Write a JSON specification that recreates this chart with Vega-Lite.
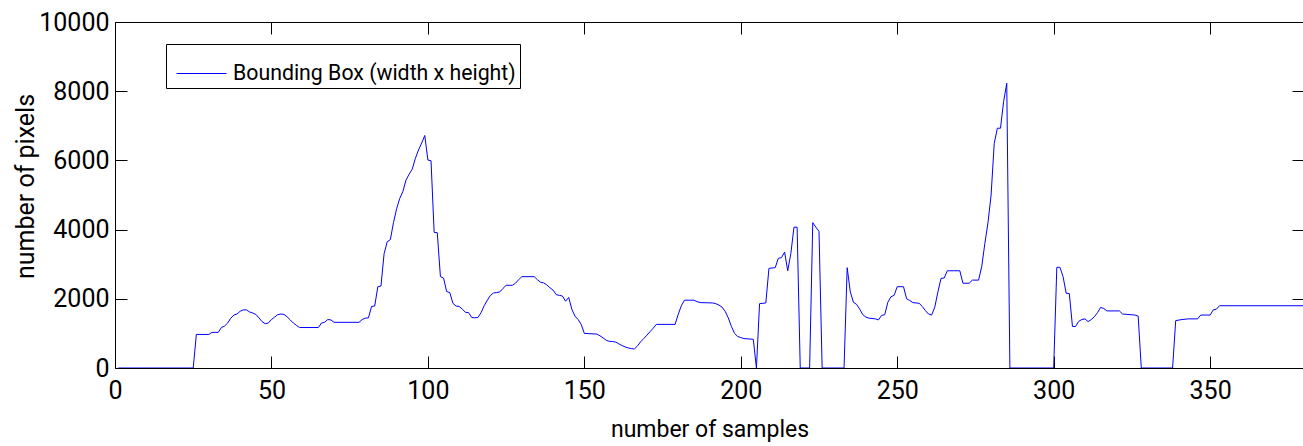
{
  "$schema": "https://vega.github.io/schema/vega-lite/v6.json",
  "width": 1189,
  "height": 346,
  "autosize": "none",
  "padding": {"left": 115, "top": 22, "right": 0, "bottom": 78},
  "background": "white",
  "config": {
    "view": {"stroke": null},
    "font": "Roboto",
    "axis": {
      "grid": false,
      "domainColor": "black",
      "domainWidth": 1,
      "tickColor": "black",
      "tickWidth": 1,
      "labelColor": "black",
      "titleColor": "black",
      "labelFont": "Roboto",
      "titleFont": "Roboto",
      "labelFontSize": 25,
      "titleFontWeight": "normal",
      "tickSize": -12,
      "labelFlush": false,
      "labelOverlap": false,
      "format": "d",
      "zindex": 1
    }
  },
  "data": {
    "values": [
      {"sample": 1, "pixels": 0}, {"sample": 25, "pixels": 0}, {"sample": 26, "pixels": 970}, {"sample": 30, "pixels": 970},
      {"sample": 31, "pixels": 1030}, {"sample": 33, "pixels": 1030}, {"sample": 34, "pixels": 1170}, {"sample": 35, "pixels": 1210},
      {"sample": 36, "pixels": 1300}, {"sample": 37, "pixels": 1440}, {"sample": 38, "pixels": 1530}, {"sample": 39, "pixels": 1560},
      {"sample": 40, "pixels": 1640}, {"sample": 41, "pixels": 1680}, {"sample": 42, "pixels": 1680}, {"sample": 43, "pixels": 1620},
      {"sample": 44, "pixels": 1590}, {"sample": 45, "pixels": 1550}, {"sample": 46, "pixels": 1450}, {"sample": 47, "pixels": 1340},
      {"sample": 48, "pixels": 1280}, {"sample": 49, "pixels": 1300}, {"sample": 50, "pixels": 1400}, {"sample": 51, "pixels": 1470},
      {"sample": 52, "pixels": 1540}, {"sample": 53, "pixels": 1560}, {"sample": 54, "pixels": 1550}, {"sample": 55, "pixels": 1480},
      {"sample": 56, "pixels": 1390}, {"sample": 57, "pixels": 1300}, {"sample": 58, "pixels": 1230}, {"sample": 59, "pixels": 1170},
      {"sample": 65, "pixels": 1170}, {"sample": 66, "pixels": 1300}, {"sample": 67, "pixels": 1320}, {"sample": 68, "pixels": 1400},
      {"sample": 69, "pixels": 1390}, {"sample": 70, "pixels": 1320}, {"sample": 78, "pixels": 1320}, {"sample": 79, "pixels": 1400},
      {"sample": 80, "pixels": 1440}, {"sample": 81, "pixels": 1450}, {"sample": 82, "pixels": 1780}, {"sample": 83, "pixels": 1790},
      {"sample": 84, "pixels": 2350}, {"sample": 85, "pixels": 2370}, {"sample": 86, "pixels": 3300}, {"sample": 87, "pixels": 3650},
      {"sample": 88, "pixels": 3710}, {"sample": 89, "pixels": 4200}, {"sample": 90, "pixels": 4600}, {"sample": 91, "pixels": 4900},
      {"sample": 92, "pixels": 5100}, {"sample": 93, "pixels": 5430}, {"sample": 94, "pixels": 5600}, {"sample": 95, "pixels": 5750},
      {"sample": 96, "pixels": 6060}, {"sample": 97, "pixels": 6300}, {"sample": 98, "pixels": 6500}, {"sample": 99, "pixels": 6720},
      {"sample": 100, "pixels": 6010}, {"sample": 101, "pixels": 5990}, {"sample": 102, "pixels": 3920}, {"sample": 103, "pixels": 3910},
      {"sample": 104, "pixels": 2640}, {"sample": 105, "pixels": 2600}, {"sample": 106, "pixels": 2210}, {"sample": 107, "pixels": 2180},
      {"sample": 108, "pixels": 1870}, {"sample": 109, "pixels": 1790}, {"sample": 110, "pixels": 1780}, {"sample": 111, "pixels": 1700},
      {"sample": 112, "pixels": 1610}, {"sample": 113, "pixels": 1600}, {"sample": 114, "pixels": 1460}, {"sample": 115, "pixels": 1450},
      {"sample": 116, "pixels": 1460}, {"sample": 117, "pixels": 1600}, {"sample": 118, "pixels": 1800}, {"sample": 119, "pixels": 1960},
      {"sample": 120, "pixels": 2100}, {"sample": 121, "pixels": 2170}, {"sample": 122, "pixels": 2180}, {"sample": 123, "pixels": 2200},
      {"sample": 124, "pixels": 2300}, {"sample": 125, "pixels": 2390}, {"sample": 127, "pixels": 2390}, {"sample": 128, "pixels": 2450},
      {"sample": 129, "pixels": 2550}, {"sample": 130, "pixels": 2640}, {"sample": 134, "pixels": 2640}, {"sample": 135, "pixels": 2550},
      {"sample": 136, "pixels": 2480}, {"sample": 137, "pixels": 2460}, {"sample": 138, "pixels": 2400}, {"sample": 139, "pixels": 2320},
      {"sample": 140, "pixels": 2250}, {"sample": 141, "pixels": 2120}, {"sample": 142, "pixels": 2100}, {"sample": 143, "pixels": 2080},
      {"sample": 144, "pixels": 1930}, {"sample": 145, "pixels": 2040}, {"sample": 146, "pixels": 1700}, {"sample": 147, "pixels": 1500},
      {"sample": 148, "pixels": 1400}, {"sample": 149, "pixels": 1260}, {"sample": 150, "pixels": 1000}, {"sample": 154, "pixels": 980},
      {"sample": 155, "pixels": 930}, {"sample": 156, "pixels": 870}, {"sample": 157, "pixels": 800}, {"sample": 158, "pixels": 770},
      {"sample": 159, "pixels": 765}, {"sample": 160, "pixels": 750}, {"sample": 161, "pixels": 700}, {"sample": 162, "pixels": 650},
      {"sample": 163, "pixels": 610}, {"sample": 164, "pixels": 580}, {"sample": 165, "pixels": 560}, {"sample": 166, "pixels": 550},
      {"sample": 167, "pixels": 640}, {"sample": 168, "pixels": 760}, {"sample": 169, "pixels": 850}, {"sample": 170, "pixels": 950},
      {"sample": 171, "pixels": 1050}, {"sample": 172, "pixels": 1150}, {"sample": 173, "pixels": 1260}, {"sample": 179, "pixels": 1260},
      {"sample": 180, "pixels": 1550}, {"sample": 181, "pixels": 1800}, {"sample": 182, "pixels": 1960}, {"sample": 185, "pixels": 1960},
      {"sample": 186, "pixels": 1920}, {"sample": 187, "pixels": 1890}, {"sample": 191, "pixels": 1880}, {"sample": 192, "pixels": 1860},
      {"sample": 193, "pixels": 1820}, {"sample": 194, "pixels": 1760}, {"sample": 195, "pixels": 1640}, {"sample": 196, "pixels": 1450},
      {"sample": 197, "pixels": 1200}, {"sample": 198, "pixels": 1000}, {"sample": 199, "pixels": 910}, {"sample": 200, "pixels": 880},
      {"sample": 201, "pixels": 850}, {"sample": 204, "pixels": 830}, {"sample": 205, "pixels": 0}, {"sample": 206, "pixels": 1860},
      {"sample": 208, "pixels": 1880}, {"sample": 209, "pixels": 2880}, {"sample": 211, "pixels": 2900}, {"sample": 212, "pixels": 3170},
      {"sample": 213, "pixels": 3190}, {"sample": 214, "pixels": 3350}, {"sample": 215, "pixels": 2810}, {"sample": 216, "pixels": 3310},
      {"sample": 217, "pixels": 4070}, {"sample": 218, "pixels": 4070}, {"sample": 219, "pixels": 0}, {"sample": 222, "pixels": 0},
      {"sample": 223, "pixels": 4200}, {"sample": 224, "pixels": 4070}, {"sample": 225, "pixels": 3950}, {"sample": 226, "pixels": 0},
      {"sample": 233, "pixels": 0}, {"sample": 234, "pixels": 2900}, {"sample": 235, "pixels": 2200}, {"sample": 236, "pixels": 1900},
      {"sample": 237, "pixels": 1840}, {"sample": 238, "pixels": 1700}, {"sample": 239, "pixels": 1540}, {"sample": 240, "pixels": 1470},
      {"sample": 241, "pixels": 1440}, {"sample": 243, "pixels": 1420}, {"sample": 244, "pixels": 1390}, {"sample": 245, "pixels": 1520},
      {"sample": 246, "pixels": 1540}, {"sample": 247, "pixels": 1900}, {"sample": 248, "pixels": 2060}, {"sample": 249, "pixels": 2100},
      {"sample": 250, "pixels": 2350}, {"sample": 252, "pixels": 2350}, {"sample": 253, "pixels": 2000}, {"sample": 254, "pixels": 1950},
      {"sample": 255, "pixels": 1890}, {"sample": 257, "pixels": 1870}, {"sample": 258, "pixels": 1780}, {"sample": 259, "pixels": 1660},
      {"sample": 260, "pixels": 1560}, {"sample": 261, "pixels": 1530}, {"sample": 262, "pixels": 1760}, {"sample": 263, "pixels": 2200},
      {"sample": 264, "pixels": 2590}, {"sample": 265, "pixels": 2600}, {"sample": 266, "pixels": 2810}, {"sample": 270, "pixels": 2810},
      {"sample": 271, "pixels": 2450}, {"sample": 273, "pixels": 2450}, {"sample": 274, "pixels": 2540}, {"sample": 276, "pixels": 2540},
      {"sample": 277, "pixels": 2930}, {"sample": 278, "pixels": 3600}, {"sample": 279, "pixels": 4200}, {"sample": 280, "pixels": 5000},
      {"sample": 281, "pixels": 6490}, {"sample": 282, "pixels": 6930}, {"sample": 283, "pixels": 6930}, {"sample": 284, "pixels": 7700},
      {"sample": 285, "pixels": 8230}, {"sample": 286, "pixels": 0}, {"sample": 300, "pixels": 0}, {"sample": 301, "pixels": 2910},
      {"sample": 302, "pixels": 2910}, {"sample": 303, "pixels": 2640}, {"sample": 304, "pixels": 2160}, {"sample": 305, "pixels": 2150},
      {"sample": 306, "pixels": 1200}, {"sample": 307, "pixels": 1200}, {"sample": 308, "pixels": 1350}, {"sample": 309, "pixels": 1400},
      {"sample": 310, "pixels": 1420}, {"sample": 311, "pixels": 1340}, {"sample": 312, "pixels": 1400}, {"sample": 313, "pixels": 1480},
      {"sample": 314, "pixels": 1600}, {"sample": 315, "pixels": 1750}, {"sample": 316, "pixels": 1720}, {"sample": 317, "pixels": 1650},
      {"sample": 321, "pixels": 1650}, {"sample": 322, "pixels": 1560}, {"sample": 326, "pixels": 1530}, {"sample": 327, "pixels": 1500},
      {"sample": 328, "pixels": 0}, {"sample": 338, "pixels": 0}, {"sample": 339, "pixels": 1370}, {"sample": 341, "pixels": 1400},
      {"sample": 343, "pixels": 1420}, {"sample": 346, "pixels": 1420}, {"sample": 347, "pixels": 1530}, {"sample": 350, "pixels": 1530},
      {"sample": 351, "pixels": 1680}, {"sample": 352, "pixels": 1700}, {"sample": 353, "pixels": 1800}, {"sample": 380, "pixels": 1800}
    ]
  },
  "layer": [
    {
      "mark": {"type": "line", "strokeWidth": 1, "strokeOpacity": 0},
      "encoding": {
        "x": {"field": "sample", "type": "quantitative", "scale": {"domain": [0, 380], "nice": false, "zero": false},
              "axis": {"orient": "top", "labels": false, "title": null, "values": [0, 50, 100, 150, 200, 250, 300, 350]}},
        "y": {"field": "pixels", "type": "quantitative", "scale": {"domain": [0, 10000], "nice": false},
              "axis": {"orient": "right", "labels": false, "title": null, "values": [0, 2000, 4000, 6000, 8000, 10000]}}
      }
    },
    {
      "mark": {"type": "line", "strokeWidth": 1, "clip": true},
      "encoding": {
        "x": {"field": "sample", "type": "quantitative", "scale": {"domain": [0, 380], "nice": false, "zero": false},
              "axis": {"orient": "bottom", "title": "number of samples", "values": [0, 50, 100, 150, 200, 250, 300, 350], "labelPadding": 22, "titleFontSize": 23, "titleBaseline": "alphabetic", "titleY": 68}},
        "y": {"field": "pixels", "type": "quantitative", "scale": {"domain": [0, 10000], "nice": false},
              "axis": {"orient": "left", "title": "number of pixels", "values": [0, 2000, 4000, 6000, 8000, 10000], "labelPadding": 18, "titleFontSize": 25, "titleBaseline": "alphabetic", "titleX": -82, "titleY": 164}},
        "color": {
          "datum": "Bounding Box (width x height)",
          "type": "nominal",
          "scale": {"range": ["#0000ff"]},
          "legend": {
            "orient": "none",
            "legendX": 51,
            "legendY": 22,
            "title": null,
            "strokeColor": "black",
            "fillColor": "white",
            "padding": 4,
            "symbolType": "stroke",
            "symbolSize": 2500,
            "symbolStrokeWidth": 1,
            "symbolOffset": 6,
            "labelFont": "Roboto",
            "labelFontSize": 21.3,
            "labelColor": "black",
            "labelOffset": 6,
            "labelLimit": 0
          }
        }
      }
    }
  ],
  "resolve": {"scale": {"x": "independent", "y": "independent"}, "axis": {"x": "independent", "y": "independent"}}
}
